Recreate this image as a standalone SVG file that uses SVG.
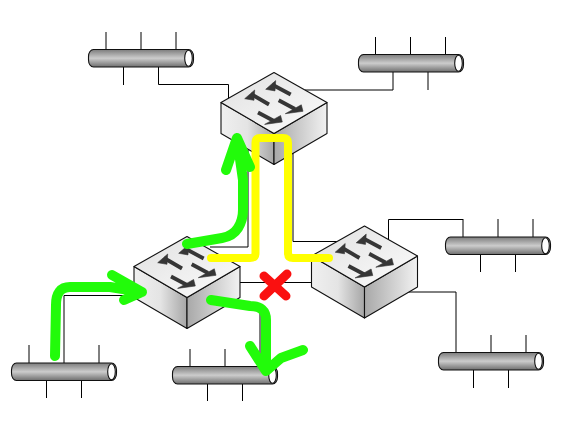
<svg xmlns="http://www.w3.org/2000/svg" width="566" height="436" viewBox="0 0 566 436">
<style>
.l{fill:none;stroke:#000;stroke-width:1}
.e{stroke:#111;stroke-width:1.1;stroke-linejoin:round}
.ar{fill:none;stroke:#363636;stroke-width:3.8}
.ah{fill:#363636;stroke:#363636;stroke-width:0.6;stroke-linejoin:round}
.y{fill:none;stroke:#ffff00;stroke-width:8;stroke-linejoin:round;stroke-linecap:round}
.g{fill:none;stroke:#22fb0a;stroke-width:10;stroke-linejoin:round;stroke-linecap:round}
.r{fill:none;stroke:#fa1010;stroke-width:9;stroke-linecap:round}
</style>
<defs>
<linearGradient id="top" x1="0" y1="0" x2="1" y2="1"><stop offset="0" stop-color="#e0e0e0"/><stop offset="1" stop-color="#fcfcfc"/></linearGradient>
<linearGradient id="lf" x1="0" y1="0" x2="1" y2="0"><stop offset="0" stop-color="#f0f0f0"/><stop offset="0.5" stop-color="#e4e4e4"/><stop offset="1" stop-color="#a6a6a6"/></linearGradient>
<linearGradient id="rf" x1="0" y1="0" x2="1" y2="0"><stop offset="0" stop-color="#a8a8a8"/><stop offset="1" stop-color="#f2f2f2"/></linearGradient>
<linearGradient id="bar" x1="0" y1="0" x2="0" y2="1"><stop offset="0" stop-color="#7c7c7c"/><stop offset="0.5" stop-color="#cccccc"/><stop offset="1" stop-color="#6e6e6e"/></linearGradient>
<g id="switch">
<path class="e" fill="url(#lf)" d="M0 30V61L53 92V61Z"/>
<path class="e" fill="url(#rf)" d="M53 61V92L106 61V30Z"/>
<path class="e" fill="url(#top)" d="M0 30L53 0L106 30L53 61Z"/>
<path class="ar" d="M51 12L69.700 22M30 21.500L48 32M57.700 27.800L74 36.500M37 40L53 48.500"/>
<path class="ah" d="M44.700 16.800L54.700 8.100L54 18.400ZM23.700 26.200L33.700 17.500L33 27.800Z"/>
<path class="ah" d="M64.300 41.200L82 38.800L80.300 32.300ZM43.600 51.900L61.300 49.500L59.600 43Z"/>
</g>
<g id="bus">
<rect class="e" fill="url(#bar)" x="0.500" y="0.500" width="105" height="17.500" rx="5" ry="7"/>
<ellipse class="e" fill="#fff" cx="100.500" cy="9.250" rx="3.800" ry="8"/>
</g>
</defs>
<g id="connectors" class="l">
<path d="M106 32V49M141 32V49M176 32V49M123.500 67V85M158.500 67V84.500H228.500V100"/>
<path d="M375.500 37V55M410.500 37V55M445.500 37V55M428 72V90M393 72V90H305"/>
<path d="M463 219.500H388.500V240M498 219V237M533 219V237M480.500 254V272M515.500 254V272M463 219V237"/>
<path d="M456 335V352M491 335V352M526 335V352M473.500 370V388M508.500 370V388M456 335V292H405"/>
<path d="M29 345V363M99 345V363M46.500 380V398M81.500 380V398M64 363V295.500H140"/>
<path d="M190 349V366M225 349V366M207.500 384V401M242.500 384V401M260 366V306H225"/>
<path d="M239 282.500H312"/>
<path d="M248 150V247H210"/>
<path d="M293 150V241.500H337"/>
</g>
<g id="bus-top-left"><use href="#bus" x="88" y="49"/></g>
<g id="bus-top-right"><use href="#bus" x="358" y="54"/></g>
<g id="bus-right"><use href="#bus" x="445" y="236.500"/></g>
<g id="bus-bottom-right"><use href="#bus" x="438" y="352"/></g>
<g id="bus-bottom-left"><use href="#bus" x="11" y="362.500"/></g>
<g id="bus-bottom-mid"><use href="#bus" x="172" y="366"/></g>
<g id="switch-top"><use href="#switch" x="221" y="72.500"/></g>
<g id="switch-left"><use href="#switch" x="134" y="236.500"/></g>
<g id="switch-right"><use href="#switch" x="311.500" y="226"/></g>
<g id="annotations">
<path class="y" d="M211 258H250Q255.500 258 255.500 253V143Q255.500 138 260 138H283Q288 138 288 143V253Q288 258 293 258H329"/>
<path class="r" d="M264 276L286 296M287 274L264 296"/>
<path class="g" d="M187 244L222 238Q233 236 238 228Q243 220 243 210V180L237 138M226 170L237 138L250 167"/>
<path class="g" d="M55 356L56 305Q56 287 70 287H110L142 292M112 275L142 292L124 300"/>
<path class="g" d="M211 300L250 306Q266 306 266 320V371M250 346L266 371L281 358L303 350"/>
</g>
</svg>
